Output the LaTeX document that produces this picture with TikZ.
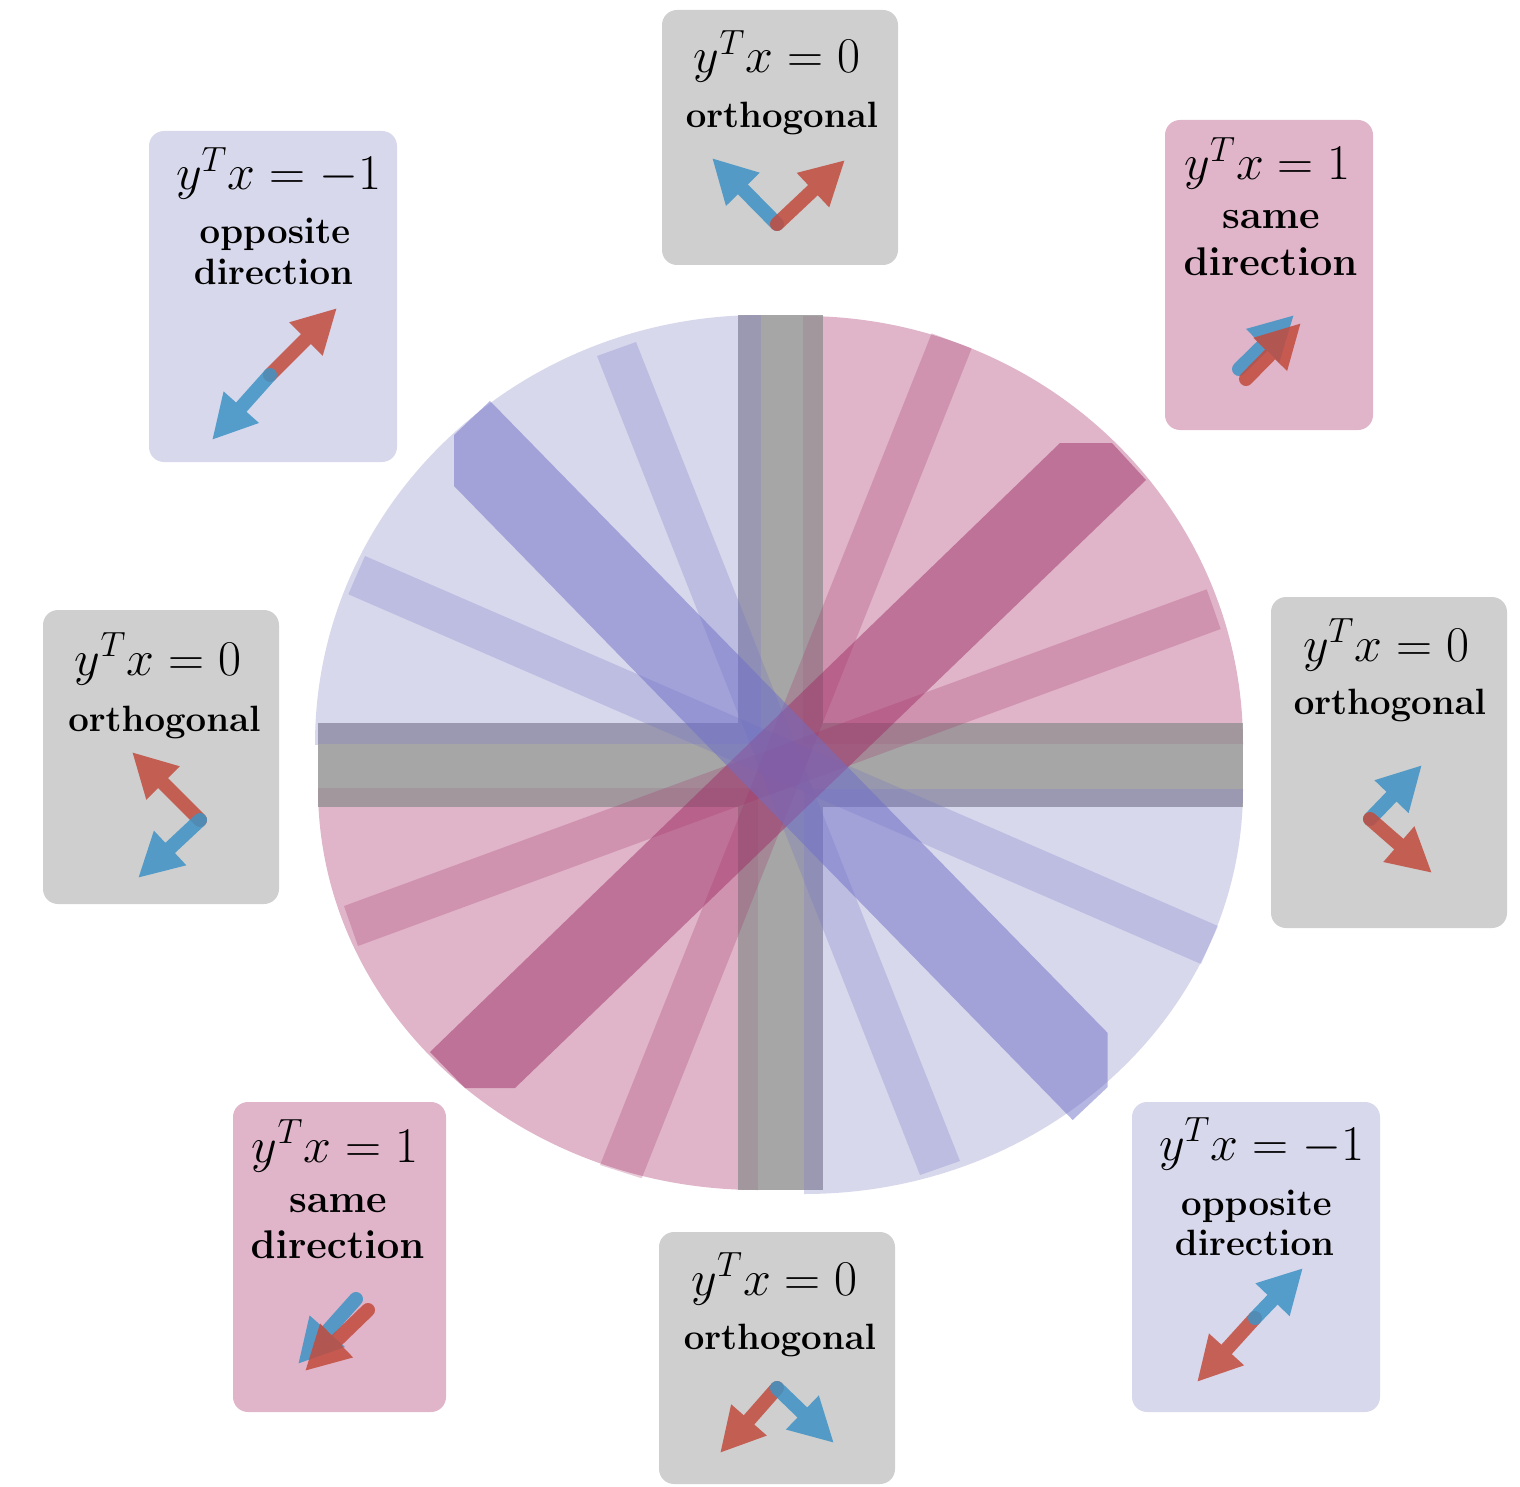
\documentclass[tikz,border=0pt]{standalone}
\usepackage{fix-cm}
\usetikzlibrary{arrows.meta}
\definecolor{lav}{RGB}{216,216,236}
\definecolor{pnk}{RGB}{224,181,201}
\definecolor{gbx}{RGB}{207,207,207}
\definecolor{gband}{RGB}{166,166,166}
\definecolor{stripL}{RGB}{155,153,177}
\definecolor{stripP}{RGB}{162,151,157}
\definecolor{lavband}{RGB}{110,110,200}
\definecolor{pnkband}{RGB}{160,48,104}
\definecolor{arrb}{RGB}{62,147,197}
\definecolor{arrr}{RGB}{194,75,61}
\newcommand{\cmbxfont}[2]{\fontencoding{OT1}\fontfamily{cmr}\fontseries{bx}\fontshape{n}\fontsize{#1}{#2}\selectfont}
\begin{document}
\begin{tikzpicture}[x=0.5pt,y=-0.5pt,
  card/.style={rounded corners=7.5pt, inner sep=0pt, outer sep=0pt},
  mth/.style={anchor=base, inner sep=0pt, font=\fontsize{25}{30}\selectfont},
  lbl/.style={anchor=base, inner sep=0pt, font=\cmbxfont{18.3}{21}},
  lblS/.style={anchor=base, inner sep=0pt, font=\cmbxfont{20}{23}},
  vec/.style={line width=7pt, line cap=round, -{Triangle[length=22pt,width=22pt]}},
  thinP/.style={fill=pnkband, fill opacity=0.25},
  thickP/.style={fill=pnkband, fill opacity=0.5},
  thinL/.style={fill=lavband, fill opacity=0.25},
  thickL/.style={fill=lavband, fill opacity=0.5},
  grp/.style={transparency group, opacity=0.85}
]
\useasboundingbox (0,0) rectangle (1520,1487);

% ---- quarter sectors
\begin{scope}\clip (0,0) rectangle (761,744);
  \fill[lav] (761,744) ellipse[x radius=446, y radius=429];\end{scope}
\begin{scope}\clip (803,0) rectangle (1520,744);
  \fill[pnk] (803,744) ellipse[x radius=440, y radius=428];\end{scope}
\begin{scope}\clip (0,788) rectangle (758,1487);
  \fill[pnk] (758,788) ellipse[x radius=440, y radius=402];\end{scope}
\begin{scope}\clip (804,789) rectangle (1520,1487);
  \fill[lav] (804,789) ellipse[x radius=439, y radius=405];\end{scope}

% ---- gray bands
\fill[gband] (738,315) rectangle (823,1190);
\fill[gband] (318,723) rectangle (1243,807);
\begin{scope}\clip (0,0) rectangle (761,744);
  \clip (761,744) ellipse[x radius=446, y radius=429];
  \fill[stripL] (738,315) rectangle (761,744);
  \fill[stripL] (318,723) rectangle (761,744);\end{scope}
\begin{scope}\clip (803,0) rectangle (1520,744);
  \clip (803,744) ellipse[x radius=440, y radius=428];
  \fill[stripP] (803,315) rectangle (823,744);
  \fill[stripP] (803,723) rectangle (1243,744);\end{scope}
\begin{scope}\clip (0,788) rectangle (758,1487);
  \clip (758,788) ellipse[x radius=440, y radius=402];
  \fill[stripP] (738,788) rectangle (758,1190);
  \fill[stripP] (318,788) rectangle (758,807);\end{scope}
\begin{scope}\clip (804,789) rectangle (1520,1487);
  \clip (804,789) ellipse[x radius=439, y radius=405];
  \fill[stripL] (804,789) rectangle (823,1190);
  \fill[stripL] (804,789) rectangle (1243,807);\end{scope}

% ---- diagonal bands
\fill[thinP] (1206.7,589.3) -- (1220.7,629) -- (358,946) -- (344,906) -- cycle;
\fill[thinP] (931.7,333.3) -- (971.7,348.3) -- (641.7,1178.3) -- (600,1165) -- cycle;
\fill[thinL] (365,556) -- (1218,926) -- (1201,964) -- (348.3,594.3) -- cycle;
\fill[thinL] (597,356) -- (636,342) -- (960,1161) -- (920,1175) -- cycle;
\fill[thickP] (1060,443) -- (1112,443) -- (1146,480) -- (515,1088) -- (465,1088) -- (430,1052) -- cycle;
\fill[thickL] (454,435) -- (490,401) -- (1107.7,1033) -- (1107.7,1087) -- (1072.7,1120) -- (454,486) -- cycle;

% ---- cards
\node[card, fill=gbx, minimum width=118pt, minimum height=127.5pt] (boxT) at (780,137.5) {};
\node[card, fill=pnk, minimum width=104pt, minimum height=155pt] (boxTR) at (1269,275) {};
\node[card, fill=gbx, minimum width=118pt, minimum height=165.5pt] (boxR) at (1389,762.5) {};
\node[card, fill=lav, minimum width=124pt, minimum height=155pt] (boxLR) at (1256,1257) {};
\node[card, fill=gbx, minimum width=118pt, minimum height=126pt] (boxB) at (777,1358) {};
\node[card, fill=pnk, minimum width=106.5pt, minimum height=155pt] (boxLL) at (339.5,1257) {};
\node[card, fill=gbx, minimum width=118pt, minimum height=147pt] (boxL) at (161,757) {};
\node[card, fill=lav, minimum width=124pt, minimum height=165.5pt] (boxTL) at (273,296.5) {};

% ---- texts
\node[mth] (mT) at (777,73) {$y^Tx=0$};
\node[lbl] (tT) at (782,128) {orthogonal};
\node[mth] (mTR) at (1267.5,180) {$y^Tx=1$};
\node[lblS] (tTR1) at (1271,229) {same};
\node[lblS] (tTR2) at (1270.5,276) {direction};
\node[mth] (mR) at (1386,661) {$y^Tx=0$};
\node[lbl] (tR) at (1390,714) {orthogonal};
\node[mth] (mLR) at (1261.5,1160) {$y^Tx=-1$};
\node[lbl] (tLR1) at (1256.5,1215) {opposite};
\node[lbl] (tLR2) at (1254.5,1255) {direction};
\node[mth] (mB) at (774.5,1295) {$y^Tx=0$};
\node[lbl] (tB) at (780,1349) {orthogonal};
\node[mth] (mLL) at (335,1162) {$y^Tx=1$};
\node[lblS] (tLL1) at (338,1212) {same};
\node[lblS] (tLL2) at (337.5,1258) {direction};
\node[mth] (mL) at (158,675) {$y^Tx=0$};
\node[lbl] (tL) at (164.5,731) {orthogonal};
\node[mth] (mTL) at (278.5,190) {$y^Tx=-1$};
\node[lbl] (tTL1) at (275,244) {opposite};
\node[lbl] (tTL2) at (273.5,285) {direction};

% ---- arrows
\coordinate (oT) at (777,224); \coordinate (bT) at (712,158); \coordinate (rT) at (845,160);
\coordinate (oTRb) at (1239,369); \coordinate (bTR) at (1294,315);
\coordinate (oTRr) at (1246,379); \coordinate (rTR) at (1301,323);
\coordinate (oR) at (1370,819); \coordinate (bR) at (1422,765); \coordinate (rR) at (1432,873);
\coordinate (oLR) at (1255,1318); \coordinate (rLR) at (1197,1382); \coordinate (bLR) at (1303,1268);
\coordinate (oB) at (777,1388); \coordinate (rB) at (720,1453); \coordinate (bB) at (834,1443);
\coordinate (oLLb) at (356,1299); \coordinate (bLL) at (298,1364);
\coordinate (oLLr) at (368,1310); \coordinate (rLL) at (305,1371);
\coordinate (oL) at (200,820); \coordinate (rL) at (132,752); \coordinate (bL) at (138,878);
\coordinate (oTL) at (270,375); \coordinate (rTL) at (337,308); \coordinate (bTL) at (212,440);

\begin{scope}[grp]\draw[vec, arrb] (oT) -- (bT);\end{scope}
\begin{scope}[grp]\draw[vec, arrr] (oT) -- (rT);\end{scope}
\begin{scope}[grp]\draw[vec, arrb] (oTRb) -- (bTR);\end{scope}
\begin{scope}[grp]\draw[vec, arrr] (oTRr) -- (rTR);\end{scope}
\begin{scope}[grp]\draw[vec, arrb] (oR) -- (bR);\end{scope}
\begin{scope}[grp]\draw[vec, arrr] (oR) -- (rR);\end{scope}
\begin{scope}[grp]\draw[vec, arrr] (oLR) -- (rLR);\end{scope}
\begin{scope}[grp]\draw[vec, arrb] (oLR) -- (bLR);\end{scope}
\begin{scope}[grp]\draw[vec, arrr] (oB) -- (rB);\end{scope}
\begin{scope}[grp]\draw[vec, arrb] (oB) -- (bB);\end{scope}
\begin{scope}[grp]\draw[vec, arrb] (oLLb) -- (bLL);\end{scope}
\begin{scope}[grp]\draw[vec, arrr] (oLLr) -- (rLL);\end{scope}
\begin{scope}[grp]\draw[vec, arrr] (oL) -- (rL);\end{scope}
\begin{scope}[grp]\draw[vec, arrb] (oL) -- (bL);\end{scope}
\begin{scope}[grp]\draw[vec, arrr] (oTL) -- (rTL);\end{scope}
\begin{scope}[grp]\draw[vec, arrb] (oTL) -- (bTL);\end{scope}
\end{tikzpicture}
\end{document}
